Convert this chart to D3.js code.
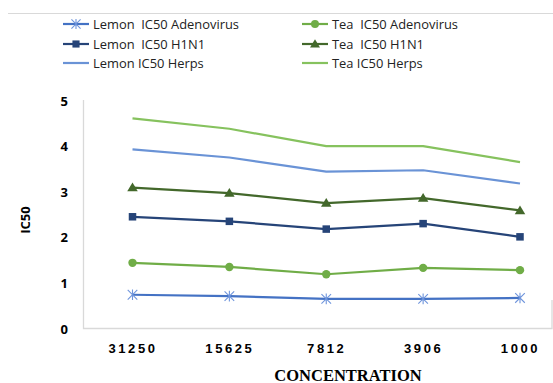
<!DOCTYPE html>
<html><head><meta charset="utf-8">
<script src="https://cdn.jsdelivr.net/npm/d3@7"></script>
<style>body{margin:0;background:#fff}svg{display:block}</style>
</head><body>
<svg id="c" width="553" height="383"></svg>
<script>
const categories = ["31250","15625","7812","3906","1000"];
const yTicks = [0,1,2,3,4,5];
const lemonAdeno = [0.74,0.71,0.65,0.65,0.67];
const teaAdeno   = [1.44,1.35,1.19,1.33,1.28];
const lemonH1N1  = [2.45,2.35,2.18,2.30,2.01];
const teaH1N1    = [3.09,2.97,2.75,2.86,2.59];
const lemonHerps = [3.93,3.75,3.44,3.47,3.18];
const teaHerps   = [4.61,4.38,4.00,4.00,3.65];

const series = [
  {name:"Lemon  IC50 Adenovirus", values:lemonAdeno, color:"#4472C4", mcolor:"#6F95DC", marker:"star", col:0,row:0},
  {name:"Tea  IC50 Adenovirus", values:teaAdeno, color:"#70AD47", mcolor:"#70AD47", marker:"circle", col:1,row:0},
  {name:"Lemon  IC50 H1N1", values:lemonH1N1, color:"#264478", mcolor:"#264478", marker:"square", col:0,row:1},
  {name:"Tea  IC50 H1N1", values:teaH1N1, color:"#43682B", mcolor:"#43682B", marker:"triangle", col:1,row:1},
  {name:"Lemon IC50 Herps", values:lemonHerps, color:"#6A93D6", mcolor:"#6A93D6", marker:"none", col:0,row:2},
  {name:"Tea IC50 Herps", values:teaHerps, color:"#86C25E", mcolor:"#86C25E", marker:"none", col:1,row:2}
];

const svg = d3.select("#c");
const x = d3.scalePoint().domain(categories).range([132.5, 520]);
const y = d3.scaleLinear().domain([0,5]).range([328.5, 100.5]);

// top separator line
svg.append("line").attr("x1",8).attr("x2",553).attr("y1",13.5).attr("y2",13.5)
  .attr("stroke","#d9d9d9").attr("stroke-width",1);

// plot frame (left, bottom, right)
svg.append("path").attr("d","M83.5,100 V328.5 H552 V300")
  .attr("fill","none").attr("stroke","#d9d9d9").attr("stroke-width",1.3);

// y axis labels
const yAxis = d3.axisLeft(y).tickValues(yTicks).tickSize(0).tickPadding(0).tickFormat(d3.format("d"));
const gy = svg.append("g").attr("transform","translate(68,0)").call(yAxis);
gy.select(".domain").remove();
gy.selectAll("text").attr("font-family","'Open Sans', Arial, sans-serif").attr("font-weight","bold")
  .attr("font-size","13px").attr("fill","#000").attr("dy","0.35em");

// x axis labels
const xAxis = d3.axisBottom(x).tickSize(0).tickPadding(0);
const gx = svg.append("g").attr("transform","translate(0,344)").call(xAxis);
gx.select(".domain").remove();
gx.selectAll("text").attr("font-family","'Liberation Sans', Arial, sans-serif").attr("font-weight","bold")
  .attr("font-size","13px").attr("fill","#000").attr("letter-spacing","2.6px").attr("dy","0.71em");

// axis titles
svg.append("text").attr("x",348).attr("y",380.5).attr("text-anchor","middle")
  .attr("font-family","'Liberation Serif', 'Times New Roman', serif").attr("font-weight","bold")
  .attr("font-size","16.5px").attr("fill","#000").text("CONCENTRATION");
svg.append("text").attr("transform","translate(30,220) rotate(-90)").attr("text-anchor","middle")
  .attr("font-family","'Open Sans', Arial, sans-serif").attr("font-weight","bold")
  .attr("font-size","13px").attr("fill","#000").text("IC50");

function drawMarker(g, type, color, cx, cy, scale){
  scale = scale || 1;
  if(type==="circle"){
    g.append("circle").attr("cx",cx).attr("cy",cy).attr("r",4.2*scale).attr("fill",color);
  } else if(type==="square"){
    const s=7.5*scale;
    g.append("rect").attr("x",cx-s/2).attr("y",cy-s/2).attr("width",s).attr("height",s).attr("fill",color);
  } else if(type==="triangle"){
    const s=5*scale;
    g.append("path").attr("d",`M${cx},${cy-s} L${cx+s*1.05},${cy+s*0.75} L${cx-s*1.05},${cy+s*0.75} Z`).attr("fill",color);
  } else if(type==="star"){
    const s=4.8*scale;
    g.append("path").attr("d",`M${cx-s},${cy-s} L${cx+s},${cy+s} M${cx-s},${cy+s} L${cx+s},${cy-s} M${cx},${cy-s-0.5} L${cx},${cy+s+0.5}`)
      .attr("stroke",color).attr("stroke-width",1.1).attr("fill","none");
  }
}

const line = d3.line().x((d,i)=>x(categories[i])).y(d=>y(d));
series.forEach(s=>{
  const g = svg.append("g");
  g.append("path").datum(s.values).attr("d",line).attr("fill","none")
    .attr("stroke",s.color).attr("stroke-width",2.2).attr("stroke-linejoin","round");
  s.values.forEach((v,i)=>drawMarker(g,s.marker,s.mcolor,x(categories[i]),y(v)));
});

// legend
const legX = [63, 302], legY = [24, 44, 63];
series.forEach(s=>{
  const lx = legX[s.col], ly = legY[s.row];
  const g = svg.append("g");
  g.append("line").attr("x1",lx).attr("x2",lx+26).attr("y1",ly).attr("y2",ly)
    .attr("stroke",s.color).attr("stroke-width",2.2);
  drawMarker(g,s.marker,s.mcolor,lx+13,ly,0.95);
  g.append("text").attr("x",lx+30).attr("y",ly).attr("dy","0.35em")
    .attr("font-family","'Open Sans', Arial, sans-serif").attr("font-size","12.9px").attr("fill","#222")
    .attr("xml:space","preserve").style("white-space","pre").text(s.name);
});
</script>
</body></html>
